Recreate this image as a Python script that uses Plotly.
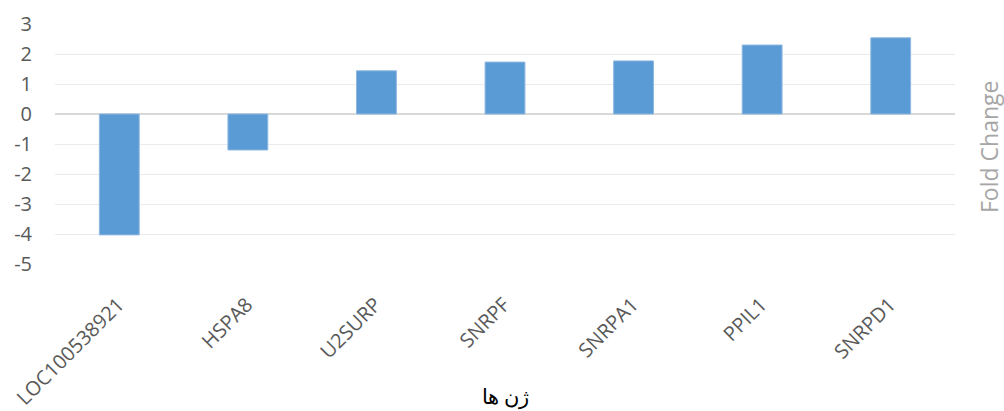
import plotly.graph_objects as go

genes = ["LOC100538921", "HSPA8", "U2SURP", "SNRPF", "SNRPA1", "PPIL1", "SNRPD1"]
fold_change = [-4.03, -1.2, 1.44, 1.73, 1.77, 2.3, 2.54]
y_ticks = [-5, -4, -3, -2, -1, 0, 1, 2, 3]
y_tick_text = ["-5", "-4", "-3", "-2", "-1", "0", "1", "2", "3"]

fig = go.Figure()
fig.add_trace(go.Bar(
    x=genes, y=fold_change,
    marker=dict(color="#5b9bd5", line=dict(color="#8fb8e0", width=1)),
    width=0.31,
))

fig.update_layout(
    width=1004, height=411,
    margin=dict(l=55, r=49, t=24, b=147, autoexpand=False),
    paper_bgcolor="white", plot_bgcolor="white",
    showlegend=False,
    font=dict(family="Open Sans, Calibri, sans-serif", color="#595959", size=19),
    xaxis=dict(
        tickangle=-45, showgrid=False, showline=False, ticks="", automargin=False,
        tickfont=dict(size=20, color="#595959"),
        ticklabelstandoff=24, ticklabelshift=-1,
    ),
    yaxis=dict(
        range=[-5, 3], tickvals=y_ticks, ticktext=y_tick_text, automargin=False,
        showgrid=True, gridcolor="#ebebeb", gridwidth=1,
        zeroline=True, zerolinecolor="#d9d9d9", zerolinewidth=2,
        showline=False, ticks="", ticklabelstandoff=22,
        tickfont=dict(size=20, color="#595959"),
    ),
    annotations=[
        dict(text="Fold Change", xref="paper", yref="paper", x=1.0, xshift=34, y=0.5,
             yshift=-3, xanchor="center", yanchor="middle", textangle=-90, showarrow=False,
             font=dict(size=23, color="#a6a6a6")),
        dict(text="ژن ها", xref="paper", yref="paper", x=0.5, y=0, yshift=-133,
             xanchor="center", yanchor="middle", showarrow=False,
             font=dict(size=21, color="#000000", family="Times New Roman, Liberation Serif, DejaVu Serif, serif")),
    ],
)

fig.write_html("out.html")
